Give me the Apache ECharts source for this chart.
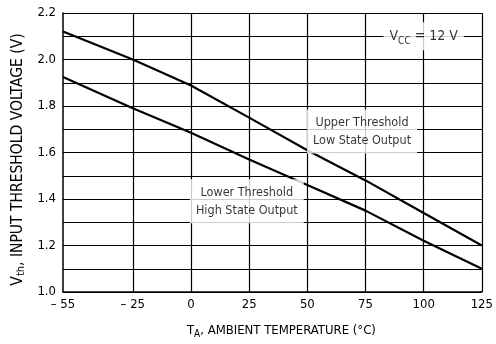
<!DOCTYPE html>
<html><head><meta charset="utf-8">
<script src="https://cdn.jsdelivr.net/npm/echarts@6/dist/echarts.min.js"></script>
<style>html,body{margin:0;padding:0;background:#fff}#c{width:496px;height:344px}</style>
</head><body><div id="c"></div>
<script>
var temps = [-55, -25, 0, 25, 50, 75, 100, 125];
var upperThreshold = [2.12, 2.0, 1.888, 1.75, 1.61, 1.48, 1.34, 1.20];
var lowerThreshold = [1.925, 1.79, 1.685, 1.57, 1.46, 1.35, 1.22, 1.10];
var xTickLabels = [-55, -25, 0, 25, 50, 75, 100, 125];
var xGridLines = [-25, 0, 25, 50, 75, 100, 125];
var yTickLabels = [1.0, 1.2, 1.4, 1.6, 1.8, 2.0, 2.2];
var annotations = [
  {name: 'vcc', x: 100, y: 2.1, text: '{b|V}{s|CC}{b| = 12 V}'},
  {name: 'upper', x: 73.5, y: 1.69, text: '{n|Upper Threshold}\n{n|Low State Output}'},
  {name: 'lower', x: 24, y: 1.39, text: '{n|Lower Threshold}\n{n|High State Output}'}
];

var FONT = '"Liberation Sans Narrow", "DejaVu Sans Condensed", "Liberation Sans", sans-serif';
function pair(xs, ys){ return xs.map(function(x,i){return [x, ys[i]];}); }

var chart = echarts.init(document.getElementById('c'), null, {renderer:'canvas'});
chart.setOption({
  animation: false,
  backgroundColor: '#fff',
  textStyle: {fontFamily: FONT, color: '#000'},
  grid: {left: 63, right: 11, top: 13, bottom: 51},
  xAxis: {
    type: 'value', min: -55, max: 125, interval: 5,
    axisLine: {show: true, onZero: false, lineStyle: {color: '#000', width: 1.5}},
    axisTick: {show: false},
    splitLine: {show: false},
    axisLabel: {
      color: '#000', fontSize: 13, fontFamily: FONT, margin: 6,
      formatter: function(v){
        if (xTickLabels.indexOf(v) < 0) return '';
        return v < 0 ? '\u2013 ' + Math.abs(v) : String(v);
      }
    },
    name: '{n|T}{s|A}{n|, AMBIENT TEMPERATURE (°C)}',
    nameLocation: 'middle', nameGap: 31,
    nameTextStyle: {
      padding: [0, 0, 0, 18],
      rich: {
        n: {fontSize: 13, fontFamily: FONT, color: '#000'},
        s: {fontSize: 10, fontFamily: FONT, color: '#000', verticalAlign: 'bottom', padding: [6,0,0,0]}
      }
    }
  },
  yAxis: {
    type: 'value', min: 1.0, max: 2.2, interval: 0.1,
    axisLine: {show: true, onZero: false, lineStyle: {color: '#000', width: 1.5}},
    axisTick: {show: false},
    splitLine: {show: true, lineStyle: {color: '#000', width: 1.2}},
    axisLabel: {
      color: '#000', fontSize: 13, fontFamily: FONT, margin: 7,
      formatter: function(v){
        var r = Math.round(v*10)/10;
        for (var i=0;i<yTickLabels.length;i++) if (Math.abs(yTickLabels[i]-r)<1e-6) return r.toFixed(1);
        return '';
      }
    },
    name: '{n|V}{s|th}{n|, INPUT THRESHOLD VOLTAGE (V)}',
    nameLocation: 'middle', nameGap: 28, nameRotate: 90,
    nameTextStyle: {
      padding: [0, 14, 0, 0],
      rich: {
        n: {fontSize: 15.5, fontFamily: FONT, color: '#000'},
        s: {fontSize: 11, fontFamily: FONT, color: '#000', verticalAlign: 'bottom', padding: [7,0,0,0]}
      }
    }
  },
  series: [
    {
      type: 'line', name: 'grid', data: [], silent: true,
      markLine: {
        silent: true, symbol: ['none','none'], label: {show: false},
        lineStyle: {color: '#000', width: 1.2, type: 'solid'},
        data: xGridLines.map(function(x){ return {xAxis: x}; })
      }
    },
    {
      type: 'line', name: 'Upper', data: pair(temps, upperThreshold),
      symbol: 'none', lineStyle: {color: '#000', width: 2.2}, z: 5
    },
    {
      type: 'line', name: 'Lower', data: pair(temps, lowerThreshold),
      symbol: 'none', lineStyle: {color: '#000', width: 2.2}, z: 5
    },
    {
      type: 'scatter', name: 'notes', symbolSize: 0, z: 10, silent: true,
      data: annotations.map(function(a){
        return {value: [a.x, a.y], label: {formatter: a.text}};
      }),
      label: {
        show: true, position: 'inside', align: 'center', verticalAlign: 'middle',
        color: '#000', textBorderWidth: 0,
        backgroundColor: '#fff', padding: [4, 6, 4, 6], lineHeight: 18,
        rich: {
          n: {fontSize: 12.5, fontFamily: FONT, color: '#000', lineHeight: 18},
          b: {fontSize: 14, fontFamily: FONT, color: '#000', lineHeight: 20},
          s: {fontSize: 10, fontFamily: FONT, color: '#000', verticalAlign: 'bottom', padding: [7,0,0,0]}
        }
      }
    }
  ]
});
</script></body></html>
